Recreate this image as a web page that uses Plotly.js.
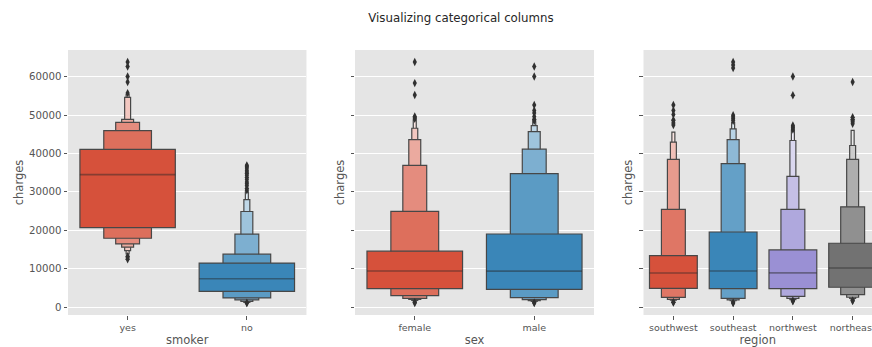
<!DOCTYPE html>
<html>
<head>
<meta charset="utf-8">
<script src="https://cdn.plot.ly/plotly-3.0.1.min.js"></script>
<style>html,body{margin:0;padding:0;background:#fff;}#chart{width:872px;height:347px;}</style>
</head>
<body>
<div id="chart"></div>
<script>
// ---- categories ----
const smokerCats = ['yes', 'no'];
const sexCats = ['female', 'male'];
const regionCats = ['southwest', 'southeast', 'northwest', 'northeast'];

// ---- y ticks ----
const yTickVals = [0, 10000, 20000, 30000, 40000, 50000, 60000];
const yTickText = ['0', '10000', '20000', '30000', '40000', '50000', '60000'];

// ---- letter-value boxes (outermost box first: lower / upper edges) ----
const yesLo = [20690, 17950, 16470, 15620, 14740, 13900];
const yesHi = [41040, 45950, 48100, 48880, 54570, 55300];
const yesMedian = 34500;
const yesOutliers = [63770, 62592, 60021, 58571, 55700, 13300, 12900, 12500];

const noLo = [4140, 2430, 1910, 1550, 1290, 1180];
const noHi = [11480, 13800, 19000, 24900, 28000, 30000];
const noMedian = 7400;
const noOutliers = [36910, 36580, 36200, 35600, 35160, 34800, 34300, 33730, 33200, 32550, 32110, 31620, 30900, 30400, 1130, 1122];

const femaleLo = [4840, 3020, 2330, 2070, 1810, 1600];
const femaleHi = [14580, 24930, 36900, 43620, 46550, 48720];
const femaleMedian = 9450;
const femaleOutliers = [63770, 58290, 55190, 49600, 49300, 49000, 1300, 1130];

const maleLo = [4650, 2500, 1990, 1720, 1500, 1300];
const maleHi = [19060, 34750, 41120, 45690, 47250, 48200];
const maleMedian = 9400;
const maleOutliers = [62592, 60021, 52590, 51195, 50500, 49577, 48885, 48517, 1200, 1121];

const southwestLo = [4910, 2590, 2070, 1850, 1650];
const southwestHi = [13450, 25440, 38450, 42930, 45520];
const southwestMedian = 8900;
const southwestOutliers = [52590, 51195, 50100, 48675, 48549, 47928, 47403, 1300, 1241];

const southeastLo = [4840, 2330, 1900, 1700, 1500];
const southeastHi = [19580, 37340, 43620, 46390, 48000];
const southeastMedian = 9450;
const southeastOutliers = [63770, 63000, 62200, 49960, 49500, 49000, 48500, 1150, 1121];

const northwestLo = [4840, 2840, 2300, 2000, 1750];
const northwestHi = [14920, 25440, 34060, 43370, 45950];
const northwestMedian = 8950;
const northwestOutliers = [60021, 55135, 47300, 46900, 46600, 46200, 1650, 1621];

const northeastLo = [5200, 3280, 2600, 2300, 2000];
const northeastHi = [16650, 26120, 38450, 42070, 46000];
const northeastMedian = 10200;
const northeastOutliers = [58571, 49400, 48885, 48500, 48170, 47700, 1700, 1695];

// ---- palette (ggplot style cycle) ----
const panelColors = [
  ['#d6513b', '#3a86b8'],
  ['#d6513b', '#3a86b8'],
  ['#d6513b', '#3a86b8', '#9a90d4', '#727272']
];

const panels = [
  {cats: smokerCats, xa: 'x', ya: 'y', groups: [[yesLo, yesHi, yesMedian, yesOutliers], [noLo, noHi, noMedian, noOutliers]]},
  {cats: sexCats, xa: 'x2', ya: 'y2', groups: [[femaleLo, femaleHi, femaleMedian, femaleOutliers], [maleLo, maleHi, maleMedian, maleOutliers]]},
  {cats: regionCats, xa: 'x3', ya: 'y3', groups: [
    [southwestLo, southwestHi, southwestMedian, southwestOutliers],
    [southeastLo, southeastHi, southeastMedian, southeastOutliers],
    [northwestLo, northwestHi, northwestMedian, northwestOutliers],
    [northeastLo, northeastHi, northeastMedian, northeastOutliers]]}
];

function hexToRgb(h) {
  return [parseInt(h.slice(1,3),16), parseInt(h.slice(3,5),16), parseInt(h.slice(5,7),16)];
}
function lighten(h, t) {
  const c = hexToRgb(h).map(v => Math.round(v + (255 - v) * t));
  return 'rgb(' + c.join(',') + ')';
}

const edge = '#474747';
const traces = [];
panels.forEach((p, pi) => {
  p.groups.forEach((g, gi) => {
    const [lo, hi, med, out] = g;
    const k = lo.length;
    const base = panelColors[pi][gi];
    for (let i = k - 1; i >= 0; i--) {
      const t = 0.85 * i / (k - 1);
      traces.push({
        type: 'bar', x: [gi], base: [lo[i]], y: [hi[i] - lo[i]],
        width: [0.8 * Math.pow(0.5, i)],
        marker: {color: lighten(base, t), line: {color: edge, width: 1.2}},
        xaxis: p.xa, yaxis: p.ya, hoverinfo: 'skip', showlegend: false
      });
    }
    traces.push({
      type: 'scatter', mode: 'lines', x: [gi - 0.4, gi + 0.4], y: [med, med],
      line: {color: 'rgba(38,38,38,0.45)', width: 1.6},
      xaxis: p.xa, yaxis: p.ya, hoverinfo: 'skip', showlegend: false
    });
    traces.push({
      type: 'scatter', mode: 'markers', x: out.map(() => gi), y: out,
      marker: {symbol: 'diamond-tall', size: 6, color: '#303030'},
      xaxis: p.xa, yaxis: p.ya, hoverinfo: 'skip', showlegend: false
    });
  });
});

const font = 'DejaVu Sans';
const tickGray = '#555555';
function xAxis(domain, cats, range, title) {
  return {
    domain: domain, range: range, tickmode: 'array',
    tickvals: cats.map((c, i) => i), ticktext: cats,
    ticks: 'outside', ticklen: 3.5, tickcolor: tickGray, tickwidth: 1,
    tickfont: {family: font, size: 9.5, color: tickGray},
    ticklabeloverflow: 'allow',
    showgrid: false, zeroline: false, showline: false, fixedrange: true,
    title: {text: title, font: {family: font, size: 11.5, color: tickGray}, standoff: 5}
  };
}
function yAxis(anchor, showLabels) {
  return {
    anchor: anchor, domain: [0, 1], range: [-2010, 66902],
    tickmode: 'array', tickvals: yTickVals, ticktext: yTickText,
    ticks: 'outside', ticklen: 3.5, tickcolor: tickGray, tickwidth: 1,
    showticklabels: showLabels,
    tickfont: {family: font, size: 10.2, color: tickGray},
    gridcolor: '#ffffff', gridwidth: 1, zeroline: false, showline: false,
    title: {text: 'charges', font: {family: font, size: 11.5, color: tickGray}, standoff: 3}
  };
}

const layout = {
  width: 872, height: 347,
  margin: {l: 68, r: 0, t: 50, b: 32},
  paper_bgcolor: '#ffffff', plot_bgcolor: '#E5E5E5',
  barmode: 'overlay', bargap: 0,
  showlegend: false,
  title: {
    text: 'Visualizing categorical columns',
    font: {family: font, size: 11.8, color: '#262626'},
    xref: 'container', yref: 'container', x: 461 / 872, y: 1 - 18 / 347,
    xanchor: 'center', yanchor: 'middle'
  },
  xaxis: xAxis([0, 0.2966], smokerCats, [-0.5, 1.5], 'smoker'),
  xaxis2: xAxis([0.357, 0.6542], sexCats, [-0.5, 1.5], 'sex'),
  xaxis3: xAxis([0.7158, 1], regionCats, [-0.5, 3.324], 'region'),
  yaxis: yAxis('x', true),
  yaxis2: Object.assign(yAxis('x2', false), {matches: 'y'}),
  yaxis3: Object.assign(yAxis('x3', false), {matches: 'y'})
};
layout.xaxis2.anchor = 'y2';
layout.xaxis3.anchor = 'y3';

Plotly.newPlot('chart', traces, layout, {displayModeBar: false, staticPlot: true});
</script>
</body>
</html>
